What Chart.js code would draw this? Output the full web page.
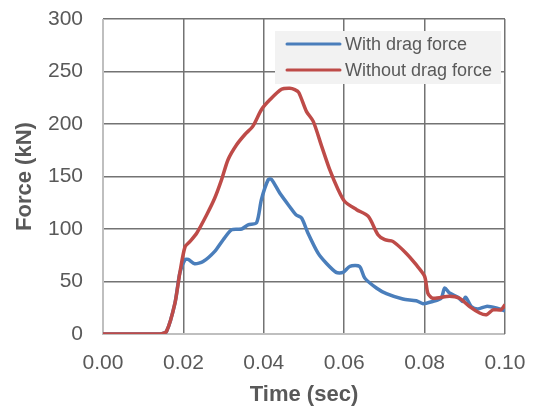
<!DOCTYPE html>
<html>
<head>
<meta charset="utf-8">
<script src="https://cdn.jsdelivr.net/npm/chart.js@4/dist/chart.umd.min.js"></script>
<style>
  html, body { margin: 0; padding: 0; background: #fff; }
  #wrap { width: 536px; height: 408px; }
</style>
</head>
<body>
<div id="wrap"><canvas id="forceChart" width="536" height="408"></canvas></div>
<script>
// values
const timeWith = [0, 0.0142, 0.0158, 0.0179, 0.0191, 0.0204, 0.0212, 0.0228, 0.0249, 0.0278, 0.0299, 0.032, 0.0345, 0.0361, 0.0382, 0.0394, 0.0411, 0.0419, 0.044, 0.0465, 0.048, 0.0494, 0.051, 0.0535, 0.0555, 0.058, 0.0597, 0.0614, 0.0638, 0.0651, 0.068, 0.0705, 0.0746, 0.0779, 0.0796, 0.082, 0.0841, 0.085, 0.0862, 0.0883, 0.0895, 0.0902, 0.0916, 0.0932, 0.0954, 0.0978, 0.1];
const forceWith = [0, 0, 2.5, 29.5, 58, 70.8, 71, 67, 69, 78.7, 89.8, 99.3, 100, 104, 106, 128, 147, 147.3, 134, 121, 113.6, 110.5, 96, 77, 67.6, 58.7, 58.7, 64.4, 64.4, 53.3, 43.8, 38.4, 33.3, 31.7, 28.9, 31, 34, 43.8, 39, 35, 31, 35, 26.3, 23.8, 26.3, 24.8, 22];

const timeWithout = [0, 0.0142, 0.0158, 0.0179, 0.0191, 0.0204, 0.0216, 0.0233, 0.0258, 0.0278, 0.0295, 0.0311, 0.0332, 0.0353, 0.0373, 0.0394, 0.0415, 0.0444, 0.0465, 0.0477, 0.0487, 0.0506, 0.0523, 0.0544, 0.0564, 0.0585, 0.0601, 0.0631, 0.066, 0.0684, 0.0701, 0.0721, 0.0754, 0.0779, 0.08, 0.0808, 0.082, 0.0862, 0.0887, 0.0912, 0.0937, 0.0954, 0.097, 0.099, 0.1];
const forceWithout = [0, 0, 2.5, 29.5, 58, 83, 88, 96, 113.6, 129.5, 147, 166, 180, 190, 198, 213.6, 223, 233, 234, 232.7, 230, 212, 202.5, 178.7, 156.5, 137.4, 126.3, 118.4, 112, 94.6, 89.8, 88.2, 77, 66, 55, 39, 34, 36, 34, 26, 20, 18.4, 23, 23, 28];

const seriesLabels = ["With drag force", "Without drag force"];
const xTicks = [0, 0.02, 0.04, 0.06, 0.08, 0.1];
const yTicks = [0, 50, 100, 150, 200, 250, 300];

const textGray = "#595959";
const gridGray = "#737373";

function toPoints(xs, ys) {
  return xs.map((x, i) => ({ x: x, y: ys[i] }));
}

// legend drawn as a boxed panel inside the plot, like the original
const boxLegend = {
  id: "boxLegend",
  afterDatasetsDraw(chart) {
    const ctx = chart.ctx;
    const x0 = 275, y0 = 31, w = 226, h = 53;
    ctx.save();
    ctx.fillStyle = "#f2f2f2";
    ctx.fillRect(x0, y0, w, h);
    ctx.font = "18px 'Liberation Sans', Arial, sans-serif";
    ctx.textBaseline = "middle";
    chart.data.datasets.forEach((ds, i) => {
      const y = 44 + i * 26;
      ctx.strokeStyle = ds.borderColor;
      ctx.lineWidth = 3;
      ctx.lineCap = "round";
      ctx.beginPath();
      ctx.moveTo(287, y);
      ctx.lineTo(340, y);
      ctx.stroke();
      ctx.fillStyle = textGray;
      ctx.fillText(ds.label, 345, y + 1);
    });
    ctx.restore();
  }
};

new Chart(document.getElementById("forceChart").getContext("2d"), {
  type: "line",
  data: {
    datasets: [
      {
        label: seriesLabels[0],
        data: toPoints(timeWith, forceWith),
        borderColor: "#4a7ebb",
        borderWidth: 3.5,
        pointRadius: 0,
        tension: 0.25,
        fill: false,
        order: 1,
      },
      {
        label: seriesLabels[1],
        data: toPoints(timeWithout, forceWithout),
        borderColor: "#be4b48",
        borderWidth: 3.5,
        pointRadius: 0,
        tension: 0.25,
        fill: false,
        order: 0,
      },
    ],
  },
  options: {
    responsive: false,
    animation: false,
    layout: { padding: { left: 0, right: 31, top: 19, bottom: 0 } },
    plugins: {
      legend: { display: false },
      tooltip: { enabled: false },
    },
    scales: {
      x: {
        type: "linear",
        min: 0,
        max: 0.1,
        afterBuildTicks: (axis) => { axis.ticks = xTicks.map((v) => ({ value: v })); },
        afterFit: (axis) => {
          axis.height = 74;
          axis.paddingLeft = 0;
          axis.paddingRight = 0;
        },
        grid: { color: gridGray, lineWidth: 1.5, drawTicks: false },
        border: { display: false },
        ticks: {
          color: textGray,
          padding: 17,
          maxRotation: 0,
          font: { family: "'Liberation Sans', Arial", size: 21 },
          callback: (v) => v.toFixed(2),
        },
        title: {
          display: true,
          text: "Time (sec)",
          color: textGray,
          padding: { top: 3, bottom: 0 },
          font: { family: "'Liberation Sans', Arial", size: 22, weight: "bold" },
        },
      },
      y: {
        min: 0,
        max: 300,
        afterBuildTicks: (axis) => { axis.ticks = yTicks.map((v) => ({ value: v })); },
        afterFit: (axis) => {
          axis.width = 103;
          axis.paddingTop = 0;
          axis.paddingBottom = 0;
        },
        grid: { color: gridGray, lineWidth: 1.5, drawTicks: false },
        border: { display: false },
        ticks: {
          color: textGray,
          padding: 20,
          font: { family: "'Liberation Sans', Arial", size: 21 },
        },
        title: {
          display: true,
          text: "Force (kN)",
          color: textGray,
          padding: { top: 12, bottom: 0 },
          font: { family: "'Liberation Sans', Arial", size: 22, weight: "bold" },
        },
      },
    },
  },
  plugins: [
    boxLegend,
    {
      id: "lightAxes",
      beforeDatasetsDraw(chart) {
        const a = chart.chartArea, ctx = chart.ctx;
        ctx.save();
        ctx.strokeStyle = "#bfbfbf";
        ctx.lineWidth = 2;
        ctx.beginPath();
        ctx.moveTo(a.left, a.top);
        ctx.lineTo(a.left, a.bottom);
        ctx.lineTo(a.right - 1, a.bottom);
        ctx.stroke();
        ctx.restore();
      }
    },
  ],
});
</script>
</body>
</html>
